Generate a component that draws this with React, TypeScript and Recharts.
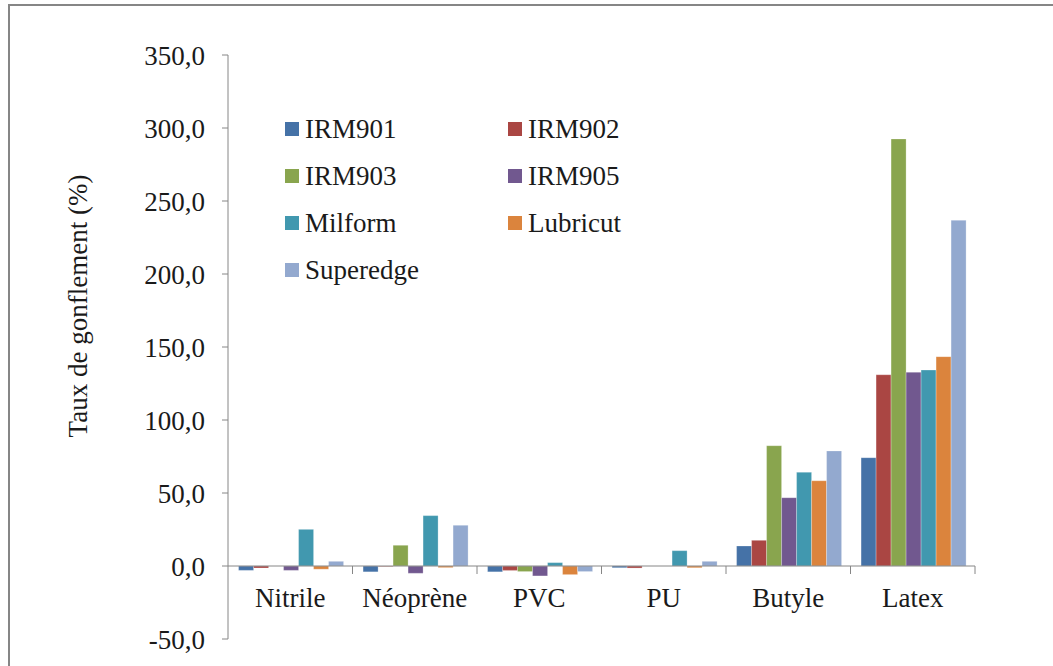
import React from "react";
import { BarChart, Bar, XAxis, YAxis, ReferenceLine } from "recharts";

const categories = ["Nitrile", "Néoprène", "PVC", "PU", "Butyle", "Latex"];
const seriesNames = ["IRM901", "IRM902", "IRM903", "IRM905", "Milform", "Lubricut", "Superedge"];
const seriesColors = ["#4572A7", "#AA4643", "#89A54E", "#71588F", "#4198AF", "#DB843D", "#93A9CF"];

const irm901 = [-3.0, -4.0, -4.0, -1.2, 13.7, 74.2];
const irm902 = [-1.4, -0.4, -3.0, -1.4, 17.6, 131.0];
const irm903 = [0.0, 14.2, -3.8, 0.0, 82.4, 292.5];
const irm905 = [-3.0, -5.0, -6.8, 0.0, 46.8, 132.7];
const milform = [25.1, 34.5, 2.3, 10.5, 64.2, 134.2];
const lubricut = [-2.2, -1.1, -5.9, -1.2, 58.4, 143.4];
const superedge = [3.2, 27.9, -3.8, 3.2, 78.8, 236.8];

const yTicks = [-50, 0, 50, 100, 150, 200, 250, 300, 350];

const allSeries = [irm901, irm902, irm903, irm905, milform, lubricut, superedge];
const data = categories.map((c, i) => {
  const row: Record<string, string | number> = { name: c };
  seriesNames.forEach((s, k) => (row[s] = allSeries[k][i]));
  return row;
});

const W = 1053;
const H = 666;
const M = { top: 55, right: 78, bottom: 0, left: 68 };
const Y_AXIS_W = 160;
const X_AXIS_H = 27;
const PLOT_W = W - M.left - M.right - Y_AXIS_W;
const PLOT_H = H - M.top - M.bottom - X_AXIS_H;
const Y_MIN = -50;
const Y_MAX = 350;
const ZERO_SHIFT = (PLOT_H * (0 - Y_MIN)) / (Y_MAX - Y_MIN);
const BAND = PLOT_W / categories.length;
const AXIS_GREY = "#868686";
const TEXT = "#1a1a1a";
const FONT = "Liberation Serif, Times New Roman, serif";
const FS = 27;

const fmt = (v: number) => v.toFixed(1).replace(".", ",");

function CategoryTick(props: any) {
  const { x, y, payload } = props;
  const zeroY = y - ZERO_SHIFT;
  const right = x + BAND / 2;
  return (
    <g>
      <line x1={right} x2={right} y1={zeroY} y2={zeroY + 8} stroke={AXIS_GREY} strokeWidth={1} />
      <text x={x} y={zeroY + 41} textAnchor="middle" fontSize={FS} fontFamily={FONT} fill={TEXT}>
        {payload.value}
      </text>
    </g>
  );
}

// legend laid out in two columns, Excel style
function LegendOverlay() {
  const colW = 223;
  const rowH = 47;
  return (
    <svg width={460} height={200} style={{ position: "absolute", left: 285, top: 105 }}>
      {seriesNames.map((s, i) => {
        const cx = (i % 2) * colW;
        const cy = Math.floor(i / 2) * rowH + 24;
        return (
          <g key={s}>
            <rect x={cx} y={cy - 7} width={14} height={14} fill={seriesColors[i]} />
            <text x={cx + 20} y={cy} dominantBaseline="central" fontSize={FS} fontFamily={FONT} fill={TEXT}>
              {s}
            </text>
          </g>
        );
      })}
    </svg>
  );
}

export default function App() {
  return (
    <div style={{ position: "absolute", left: 0, top: 0, width: W, height: H, overflow: "hidden", background: "#fff" }}>
      <div
        style={{
          position: "absolute",
          left: 8,
          top: 4,
          width: W - 8,
          height: H - 4,
          borderLeft: "2px solid #868686",
          borderTop: "2px solid #868686",
          boxSizing: "border-box",
        }}
      />
      <div style={{ position: "absolute", left: 0, top: 0 }}>
        <BarChart width={W} height={H} data={data} margin={M} barGap={0} barCategoryGap="8.5%">
          <XAxis
            dataKey="name"
            height={X_AXIS_H}
            axisLine={false}
            tickLine={false}
            tickSize={0}
            tickMargin={0}
            interval={0}
            tick={<CategoryTick />}
          />
          <YAxis
            width={Y_AXIS_W}
            domain={[Y_MIN, Y_MAX]}
            ticks={yTicks}
            interval={0}
            tickFormatter={fmt}
            axisLine={{ stroke: AXIS_GREY }}
            tickLine={{ stroke: AXIS_GREY }}
            tickSize={6}
            tickMargin={17}
            tick={{ fontSize: FS, fontFamily: FONT, fill: TEXT }}
            label={({ viewBox }: any) => {
              const cx = viewBox.x + 10;
              const cy = 306;
              return (
                <text
                  x={cx}
                  y={cy}
                  transform={`rotate(-90, ${cx}, ${cy})`}
                  textAnchor="middle"
                  dominantBaseline="central"
                  fontSize={FS}
                  fontFamily={FONT}
                  fill={TEXT}
                >
                  Taux de gonflement (%)
                </text>
              );
            }}
          />
          <ReferenceLine y={0} stroke={AXIS_GREY} strokeWidth={1} />
          {seriesNames.map((s, i) => (
            <Bar key={s} dataKey={s} fill={seriesColors[i]} stroke="#ffffff" strokeOpacity={0.5} strokeWidth={0.5} isAnimationActive={false} />
          ))}
        </BarChart>
      </div>
      <LegendOverlay />
    </div>
  );
}
